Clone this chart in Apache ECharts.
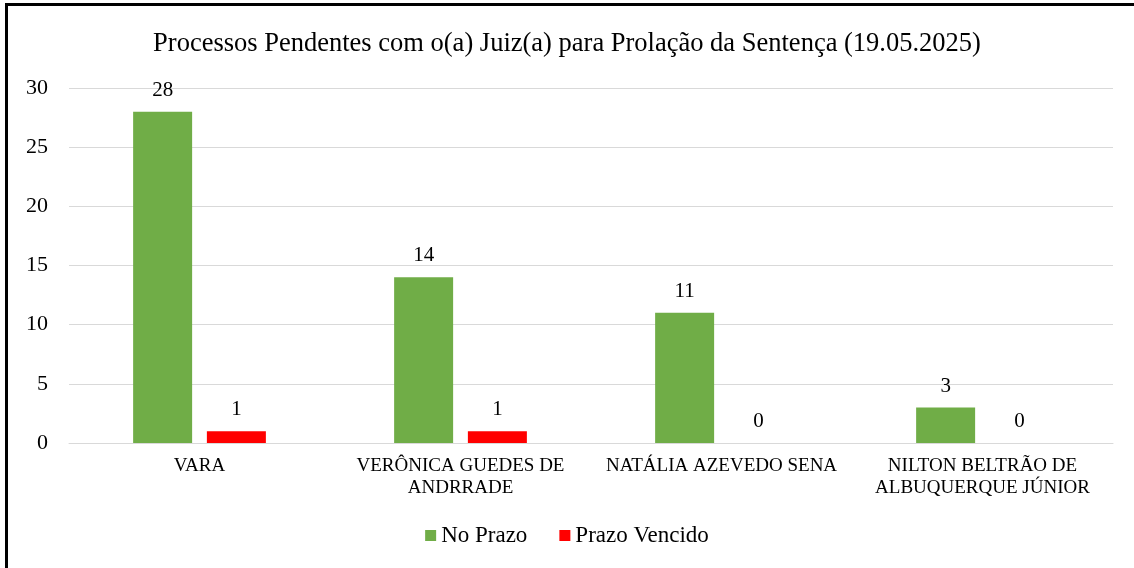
<html>
<head>
<meta charset="UTF-8">
<title>Processos Pendentes</title>
<script src="https://cdn.jsdelivr.net/npm/echarts@6/dist/echarts.min.js"></script>
<style>
  html, body { margin: 0; padding: 0; background: #fff; }
  #main { width: 1134px; height: 568px; }
</style>
</head>
<body>
<div id="main"></div>
<script type="text/javascript">
// dados
var categorias = ['VARA', 'VERÔNICA GUEDES DE\nANDRRADE', 'NATÁLIA AZEVEDO SENA', 'NILTON BELTRÃO DE\nALBUQUERQUE JÚNIOR'];
var noPrazo = [28, 14, 11, 3];
var prazoVencido = [1, 1, 0, 0];
var serieNomes = ['No Prazo', 'Prazo Vencido'];

var fonte = '"Liberation Serif", "Times New Roman", serif';

var option = {
  animation: false,
  title: {
    text: 'Processos Pendentes com o(a) Juiz(a) para Prolação da Sentença (19.05.2025)',
    left: 'center',
    top: 26,
    textStyle: { fontFamily: fonte, fontSize: 26.5, fontWeight: 'normal', color: '#000' }
  },
  legend: {
    data: serieNomes,
    bottom: 16,
    left: 'center',
    icon: 'rect',
    itemWidth: 11,
    itemHeight: 11,
    itemGap: 32,
    textStyle: { fontFamily: fonte, fontSize: 23, color: '#000' }
  },
  grid: { left: 69, right: 21, top: 88, bottom: 125 },
  xAxis: {
    type: 'category',
    data: categorias,
    axisLine: { lineStyle: { color: '#d9d9d9' } },
    axisTick: { show: false },
    axisLabel: { fontFamily: fonte, fontSize: 19, color: '#000', lineHeight: 22, margin: 12, interval: 0 }
  },
  yAxis: {
    type: 'value',
    min: 0,
    max: 30,
    interval: 5,
    axisLine: { show: false },
    axisTick: { show: false },
    splitLine: { lineStyle: { color: '#d9d9d9' } },
    axisLabel: { fontFamily: fonte, fontSize: 22, color: '#000', margin: 21 }
  },
  series: [{
    name: serieNomes[0],
    type: 'bar',
    data: noPrazo,
    barWidth: 59,
    barGap: '25%',
    itemStyle: { color: '#70ad47' },
    label: { show: true, position: 'top', distance: 11, fontFamily: fonte, fontSize: 21, color: '#000' }
  }, {
    name: serieNomes[1],
    type: 'bar',
    data: prazoVencido,
    barWidth: 59,
    itemStyle: { color: '#ff0000' },
    label: { show: true, position: 'top', distance: 11, fontFamily: fonte, fontSize: 21, color: '#000' }
  }],
  graphic: [
    { type: 'rect', shape: { x: 5, y: 3, width: 1129, height: 3 }, style: { fill: '#000' } },
    { type: 'rect', shape: { x: 5, y: 3, width: 3, height: 565 }, style: { fill: '#000' } }
  ]
};

var chart = echarts.init(document.getElementById('main'));
chart.setOption(option);
</script>
</body>
</html>
